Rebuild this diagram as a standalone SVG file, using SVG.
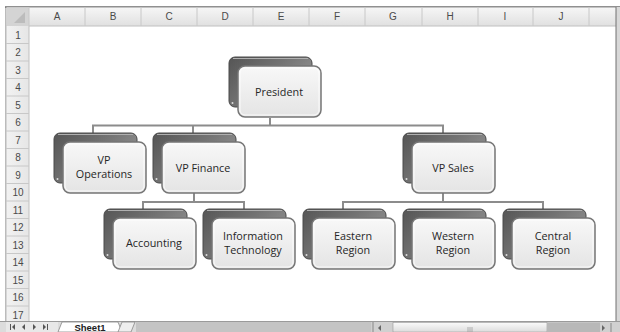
<svg xmlns="http://www.w3.org/2000/svg" width="620" height="332" viewBox="0 0 620 332">
<defs>
<linearGradient id="gBack" x1="0" y1="0" x2="1" y2="0.6">
<stop offset="0" stop-color="#555555"/>
<stop offset="0.5" stop-color="#727272"/>
<stop offset="1" stop-color="#949494"/>
</linearGradient>
<linearGradient id="gFront" x1="0" y1="0" x2="0" y2="1">
<stop offset="0" stop-color="#f8f8f8"/>
<stop offset="1" stop-color="#e4e4e4"/>
</linearGradient>
<linearGradient id="gHead" x1="0" y1="0" x2="0" y2="1">
<stop offset="0" stop-color="#f6f6f6"/>
<stop offset="1" stop-color="#e0e0e0"/>
</linearGradient>
<linearGradient id="gRow" x1="0" y1="0" x2="1" y2="0">
<stop offset="0" stop-color="#f2f2f2"/>
<stop offset="1" stop-color="#e6e6e6"/>
</linearGradient>
<linearGradient id="gThumb" x1="0" y1="0" x2="0" y2="1">
<stop offset="0" stop-color="#fafafa"/>
<stop offset="1" stop-color="#dcdcdc"/>
</linearGradient>
<g id="card">
<rect x="0" y="0" width="83" height="50" rx="6" fill="url(#gBack)" stroke="#4a4a4a" stroke-width="1"/>
<path d="M4,1.5 H79" stroke="#b0b0b0" stroke-width="1" fill="none"/>
<circle cx="3.5" cy="46" r="1" fill="#dddddd"/>
<rect x="9" y="9" width="83" height="51" rx="7" fill="url(#gFront)" stroke="#767676" stroke-width="1.5"/>
<rect x="11" y="11" width="79" height="47" rx="5" fill="none" stroke="#ffffff" stroke-width="1" opacity="0.8"/>
</g>
</defs>
<style>
.hdr{font-family:"Liberation Sans",Arial,sans-serif;font-size:10px;fill:#4a4a4a;text-anchor:middle}
.lbl{font-family:"Open Sans","Liberation Sans",sans-serif;font-size:10.8px;fill:#262626;text-anchor:middle}
.conn{stroke:#8c8c8c;stroke-width:2;fill:none}
.grid{stroke:#c8c8c8;stroke-width:1}
</style>
<rect width="620" height="332" fill="#ffffff"/>
<!-- frame -->
<line x1="5" y1="7" x2="620" y2="7" stroke="#222" stroke-width="1.2"/>
<line x1="6" y1="7" x2="6" y2="322" stroke="#777" stroke-width="1"/>
<!-- column header -->
<rect x="6.5" y="7.5" width="610" height="18.5" fill="url(#gHead)"/>
<line x1="6" y1="26" x2="616" y2="26" stroke="#c0c0c0"/>
<rect x="6.5" y="7.5" width="22.5" height="18.5" fill="#d4d4d4"/>
<polygon points="25,12 25,23 14,23" fill="#bcbcbc"/>
<g class="grid">
<line x1="29" y1="7" x2="29" y2="26"/><line x1="85" y1="7" x2="85" y2="26"/><line x1="141" y1="7" x2="141" y2="26"/><line x1="197" y1="7" x2="197" y2="26"/><line x1="253" y1="7" x2="253" y2="26"/><line x1="309" y1="7" x2="309" y2="26"/><line x1="365" y1="7" x2="365" y2="26"/><line x1="422" y1="7" x2="422" y2="26"/><line x1="478" y1="7" x2="478" y2="26"/><line x1="533" y1="7" x2="533" y2="26"/><line x1="589" y1="7" x2="589" y2="26"/>
</g>
<g class="hdr">
<text x="57" y="20">A</text><text x="113" y="20">B</text><text x="169" y="20">C</text><text x="225" y="20">D</text><text x="281" y="20">E</text><text x="337" y="20">F</text><text x="393" y="20">G</text><text x="450" y="20">H</text><text x="505" y="20">I</text><text x="561" y="20">J</text>
</g>
<!-- row header -->
<rect x="6.5" y="26" width="22.5" height="296" fill="url(#gRow)"/>
<line x1="29" y1="26" x2="29" y2="322" stroke="#c0c0c0"/>
<g class="grid">
<line x1="6" y1="43.5" x2="29" y2="43.5"/><line x1="6" y1="61" x2="29" y2="61"/><line x1="6" y1="78.5" x2="29" y2="78.5"/><line x1="6" y1="96" x2="29" y2="96"/><line x1="6" y1="113.5" x2="29" y2="113.5"/><line x1="6" y1="131" x2="29" y2="131"/><line x1="6" y1="148.5" x2="29" y2="148.5"/><line x1="6" y1="166" x2="29" y2="166"/><line x1="6" y1="183.5" x2="29" y2="183.5"/><line x1="6" y1="201" x2="29" y2="201"/><line x1="6" y1="218.5" x2="29" y2="218.5"/><line x1="6" y1="236" x2="29" y2="236"/><line x1="6" y1="253.5" x2="29" y2="253.5"/><line x1="6" y1="271" x2="29" y2="271"/><line x1="6" y1="288.5" x2="29" y2="288.5"/><line x1="6" y1="306" x2="29" y2="306"/>
</g>
<g class="hdr">
<text x="18" y="38.5">1</text><text x="18" y="56">2</text><text x="18" y="73.5">3</text><text x="18" y="91">4</text><text x="18" y="108.5">5</text><text x="18" y="126">6</text><text x="18" y="143.5">7</text><text x="18" y="161">8</text><text x="18" y="178.5">9</text><text x="18" y="196">10</text><text x="18" y="213.5">11</text><text x="18" y="231">12</text><text x="18" y="248.5">13</text><text x="18" y="266">14</text><text x="18" y="283.5">15</text><text x="18" y="301">16</text><text x="18" y="318.5">17</text>
</g>
<!-- right scrollbar -->
<rect x="616" y="7" width="4" height="315" fill="#d8d8d8"/>
<line x1="616" y1="7" x2="616" y2="322" stroke="#707070"/>
<!-- bottom bar -->
<rect x="0" y="321.5" width="620" height="10.5" fill="#dcdcdc"/>
<line x1="0" y1="321.5" x2="620" y2="321.5" stroke="#9a9a9a"/>
<rect x="6" y="322" width="52" height="10" fill="#e8e8e8"/>
<g fill="#555">
<rect x="10" y="324" width="1" height="6"/><polygon points="15,324 12,327 15,330"/>
<polygon points="25,324 22,327 25,330"/>
<polygon points="33,324 36,327 33,330"/>
<polygon points="43,324 46,327 43,330"/><rect x="47" y="324" width="1" height="6"/>
</g>
<polygon points="58,332 62,322 118,322 122,332" fill="#ffffff" stroke="#888" stroke-width="0.8"/>
<text x="90" y="330.5" font-family="Liberation Sans,Arial,sans-serif" font-size="9.5" font-weight="bold" fill="#222" text-anchor="middle">Sheet1</text>
<polygon points="118,332 122,322 135,322 131,332" fill="#eeeeee" stroke="#888" stroke-width="0.8"/>
<rect x="136" y="322" width="235" height="10" fill="#c4c4c4"/>
<rect x="371" y="322" width="249" height="10" fill="#d0d0d0"/>
<line x1="373" y1="322" x2="373" y2="332" stroke="#888"/>
<polygon points="381,325 378,328 381,331" fill="#666"/>
<rect x="393" y="322.5" width="154" height="9.5" fill="url(#gThumb)" stroke="#999" stroke-width="0.6"/>
<g stroke="#888" stroke-width="0.6"><line x1="468" y1="327" x2="468" y2="332"/><line x1="470" y1="327" x2="470" y2="332"/><line x1="472" y1="327" x2="472" y2="332"/></g>
<rect x="547" y="322.5" width="53" height="9.5" fill="#b8b8b8"/>
<polygon points="602,325 605,328 602,331" fill="#666"/>
<line x1="611" y1="323" x2="611" y2="332" stroke="#888"/>
<!-- connectors -->
<g id="connectors" class="conn">
<path d="M270,118 V125.5"/>
<path d="M93,133 V125.5 H443 V133"/>
<path d="M193,125.5 V133"/>
<path d="M194,193 V202 M143,209 V202 H244 V209"/>
<path d="M443,193 V202 M343,209 V202 H543 V209"/>
</g>
<!-- nodes -->
<g id="president"><use href="#card" x="229" y="57"/><text class="lbl" x="279" y="96">President</text></g>
<g id="vp-operations"><use href="#card" x="54" y="133"/><text class="lbl" x="104" y="164">VP</text><text class="lbl" x="104" y="178">Operations</text></g>
<g id="vp-finance"><use href="#card" x="153" y="133"/><text class="lbl" x="203" y="171.5">VP Finance</text></g>
<g id="vp-sales"><use href="#card" x="403" y="133"/><text class="lbl" x="453" y="171.5">VP Sales</text></g>
<g id="accounting"><use href="#card" x="104" y="209"/><text class="lbl" x="154" y="247">Accounting</text></g>
<g id="information-technology"><use href="#card" x="203" y="209"/><text class="lbl" x="253" y="240">Information</text><text class="lbl" x="253" y="254">Technology</text></g>
<g id="eastern-region"><use href="#card" x="303" y="209"/><text class="lbl" x="353" y="240">Eastern</text><text class="lbl" x="353" y="254">Region</text></g>
<g id="western-region"><use href="#card" x="403" y="209"/><text class="lbl" x="453" y="240">Western</text><text class="lbl" x="453" y="254">Region</text></g>
<g id="central-region"><use href="#card" x="503" y="209"/><text class="lbl" x="553" y="240">Central</text><text class="lbl" x="553" y="254">Region</text></g>
</svg>
